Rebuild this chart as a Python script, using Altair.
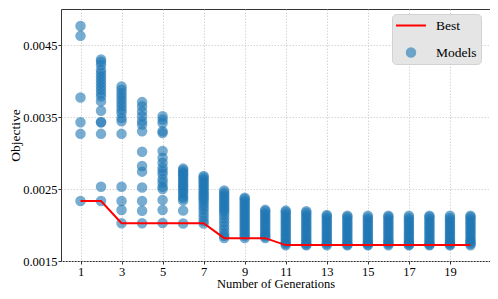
import altair as alt
import pandas as pd

# ---- data ----
generations = list(range(1, 21))
best = [0.002333, 0.002333, 0.002024, 0.002024, 0.002024, 0.002024, 0.002024,
        0.001817, 0.001817, 0.001817, 0.001721, 0.001721, 0.001721, 0.001721,
        0.001721, 0.001721, 0.001721, 0.001721, 0.001721, 0.001721]

g1 = [0.004765, 0.004627, 0.003772, 0.003427, 0.003266, 0.002333]
g2 = [0.004300, 0.004268, 0.004223, 0.004154, 0.004107, 0.004061, 0.004016, 0.003969,
      0.003923, 0.003878, 0.003831, 0.003786, 0.003717, 0.003588, 0.003427, 0.003427,
      0.003266, 0.002530, 0.002333]
g3 = [0.003923, 0.003878, 0.003831, 0.003786, 0.003740, 0.003693, 0.003648, 0.003602,
      0.003555, 0.003486, 0.003441, 0.003266, 0.002530, 0.002333, 0.002209, 0.002024]
g4 = [0.003707, 0.003648, 0.003578, 0.003510, 0.003441, 0.003395, 0.003303, 0.003017,
      0.002820, 0.002741, 0.002521, 0.002333, 0.002199, 0.002024]
g5 = [0.003510, 0.003464, 0.003417, 0.003303, 0.003279, 0.003027, 0.002934, 0.002866,
      0.002797, 0.002751, 0.002706, 0.002637, 0.002590, 0.002530, 0.002499, 0.002347,
      0.002209, 0.002029]
g6 = [0.002783, 0.002760, 0.002730, 0.002710, 0.002680, 0.002650, 0.002620, 0.002590,
      0.002560, 0.002530, 0.002500, 0.002470, 0.002440, 0.002400, 0.002370, 0.002340,
      0.002200, 0.002020]
g7 = [0.002680, 0.002660, 0.002630, 0.002600, 0.002570, 0.002540, 0.002510, 0.002480,
      0.002450, 0.002420, 0.002390, 0.002360, 0.002330, 0.002290, 0.002250, 0.002210,
      0.002160, 0.002110, 0.002060, 0.002020]
g8 = [0.002480, 0.002450, 0.002420, 0.002390, 0.002360, 0.002330, 0.002300, 0.002270,
      0.002240, 0.002210, 0.002180, 0.002140, 0.002090, 0.002040, 0.001990, 0.001940,
      0.001890, 0.001850, 0.001820]
g9 = [0.002380, 0.002360, 0.002330, 0.002300, 0.002270, 0.002240, 0.002210, 0.002180,
      0.002150, 0.002120, 0.002090, 0.002060, 0.002030, 0.002000, 0.001970, 0.001940,
      0.001910, 0.001880, 0.001850, 0.001820]
g10 = [0.002210, 0.002190, 0.002160, 0.002130, 0.002100, 0.002070, 0.002040, 0.002010,
       0.001980, 0.001950, 0.001920, 0.001890, 0.001860, 0.001840, 0.001820]
g11 = [0.002200, 0.002180, 0.002150, 0.002120, 0.002090, 0.002060, 0.002030, 0.002000,
       0.001970, 0.001940, 0.001910, 0.001880, 0.001850, 0.001820, 0.001790, 0.001760,
       0.001740, 0.001720]
g12 = [0.002190, 0.002170, 0.002140, 0.002110, 0.002080, 0.002050, 0.002020, 0.001990,
       0.001960, 0.001930, 0.001900, 0.001870, 0.001840, 0.001810, 0.001780, 0.001750,
       0.001730, 0.001720]
g13 = [0.002140, 0.002120, 0.002090, 0.002060, 0.002030, 0.002000, 0.001970, 0.001940,
       0.001910, 0.001880, 0.001850, 0.001820, 0.001790, 0.001760, 0.001740, 0.001720]
g14 = [0.002130, 0.002110, 0.002080, 0.002050, 0.002020, 0.001990, 0.001960, 0.001930,
       0.001900, 0.001870, 0.001840, 0.001810, 0.001780, 0.001750, 0.001730, 0.001720]
g15 = [0.002130, 0.002100, 0.002070, 0.002040, 0.002010, 0.001980, 0.001950, 0.001920,
       0.001890, 0.001860, 0.001830, 0.001800, 0.001770, 0.001750, 0.001730, 0.001720]
g16 = [0.002130, 0.002110, 0.002080, 0.002050, 0.002020, 0.001990, 0.001960, 0.001930,
       0.001900, 0.001870, 0.001840, 0.001810, 0.001780, 0.001760, 0.001740, 0.001720]
g17 = [0.002130, 0.002100, 0.002070, 0.002040, 0.002010, 0.001980, 0.001950, 0.001920,
       0.001890, 0.001860, 0.001830, 0.001800, 0.001770, 0.001750, 0.001730, 0.001720]
g18 = [0.002130, 0.002110, 0.002080, 0.002050, 0.002020, 0.001990, 0.001960, 0.001930,
       0.001900, 0.001870, 0.001840, 0.001810, 0.001780, 0.001750, 0.001730, 0.001720]
g19 = [0.002130, 0.002100, 0.002070, 0.002040, 0.002010, 0.001980, 0.001950, 0.001920,
       0.001890, 0.001860, 0.001830, 0.001800, 0.001770, 0.001750, 0.001730, 0.001720]
g20 = [0.002130, 0.002110, 0.002080, 0.002050, 0.002020, 0.001990, 0.001960, 0.001930,
       0.001900, 0.001870, 0.001840, 0.001810, 0.001780, 0.001760, 0.001740, 0.001720]

model_values = [g1, g2, g3, g4, g5, g6, g7, g8, g9, g10,
                g11, g12, g13, g14, g15, g16, g17, g18, g19, g20]

x_ticks = [1, 3, 5, 7, 9, 11, 13, 15, 17, 19]
y_ticks = [0.0015, 0.0025, 0.0035, 0.0045]
series = ["Best", "Models"]

# ---- tables ----
pts = pd.DataFrame(
    [{"gen": g, "value": v, "series": "Models"}
     for g, vals in zip(generations, model_values) for v in vals]
)
line_df = pd.DataFrame({"gen": generations, "value": best})

FONT = "Liberation Serif"
BLUE = "#1f77b4"
RED = "#ff0000"

x_enc = alt.X(
    "gen:Q",
    scale=alt.Scale(domain=[0.05, 20.95], nice=False, zero=False),
    axis=alt.Axis(values=x_ticks, title="Number of Generations", format="d"),
)
y_enc = alt.Y(
    "value:Q",
    scale=alt.Scale(domain=[0.0015, 0.0050], nice=False, zero=False),
    axis=alt.Axis(values=y_ticks, title="Objective", format=".4f"),
)

SYM = 784  # symbol area unit: sqrt = 28 px
leg = alt.Legend(
    title=None, orient="none", legendX=331, legendY=5,
    fillColor="#e5e5e5", strokeColor="#d2d2d2", cornerRadius=4,
    padding=4, rowPadding=12, labelOffset=10, clipHeight=15,
    labelFont=FONT, labelFontSize=13.5, labelColor="#000000",
    symbolSize=SYM, symbolStrokeWidth=2,
)

shape_paths = [
    "M-1.071,0L1.071,0",
    "M0.304,0A0.304,0.304,0,1,1,-0.304,0A0.304,0.304,0,1,1,0.304,0Z",
]

points = alt.Chart(pts).mark_point(filled=True, size=SYM, strokeWidth=2).encode(
    x=x_enc,
    y=y_enc,
    color=alt.Color("series:N", scale=alt.Scale(domain=series, range=[RED, BLUE]), legend=leg),
    stroke=alt.Stroke("series:N", scale=alt.Scale(domain=series, range=[RED, BLUE]), legend=leg),
    shape=alt.Shape("series:N", scale=alt.Scale(domain=series, range=shape_paths), legend=leg),
    opacity=alt.Opacity("series:N", scale=alt.Scale(domain=series, range=[1.0, 0.6]), legend=leg),
)

line = alt.Chart(line_df).mark_line(color=RED, strokeWidth=2).encode(x=x_enc, y=y_enc)

chart = (
    alt.layer(points, line)
    .properties(
        width=429, height=252,
        autosize=alt.AutoSizeParams(type="none"),
        padding={"left": 53, "top": 1, "right": 0, "bottom": 30},
    )
    .configure_view(stroke="#333333", strokeWidth=1)
    .configure_axis(
        domain=False,
        labelFont=FONT, labelFontSize=12.5, labelColor="#000000",
        titleFont=FONT, titleFontSize=12.5, titleFontWeight="normal", titleColor="#000000",
        tickColor="#333333", tickSize=3, labelPadding=1,
        gridColor="#cccccc", gridDash=[1.5, 1.5], gridWidth=0.8,
    )
    .configure_axisX(titlePadding=0)
    .configure_axisY(titlePadding=0, titleFontSize=13.5)
)

chart.save("out.html", embed_options={"renderer": "svg", "actions": False})
